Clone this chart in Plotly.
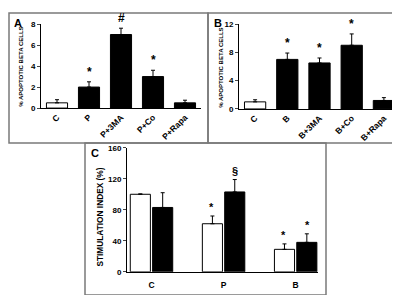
import plotly.graph_objects as go

# Panel A data
a_cats = ["C", "P", "P+3MA", "P+Co", "P+Rapa"]
a_vals = [0.5, 2.0, 7.0, 3.0, 0.5]
a_err = [0.3, 0.5, 0.6, 0.6, 0.25]
a_marks = ["", "*", "#", "*", ""]

# Panel B data
b_cats = ["C", "B", "B+3MA", "B+Co", "B+Rapa"]
b_vals = [1.0, 7.0, 6.5, 9.0, 1.2]
b_err = [0.3, 0.9, 0.7, 1.6, 0.4]
b_marks = ["", "*", "*", "*", ""]

# Panel C data
c_cats = ["C", "P", "B"]
c_white = [100, 62, 29]
c_white_err = [0.5, 10, 7]
c_black = [83, 103, 38]
c_black_err = [19, 16, 11]
c_white_marks = ["", "*", "*"]
c_black_marks = ["", "§", "*"]

FONT = "Liberation Sans, Arial, sans-serif"

fig = go.Figure()

def colors(n):
    return ["white"] + ["black"] * (n - 1)

fig.add_trace(go.Bar(x=a_cats, y=a_vals, marker=dict(color=colors(5), line=dict(color="black", width=1)),
                     error_y=dict(type="data", array=a_err, arrayminus=[0]*5, symmetric=False, color="black", thickness=1, width=2),
                     width=0.66, xaxis="x", yaxis="y", showlegend=False))
fig.add_trace(go.Bar(x=b_cats, y=b_vals, marker=dict(color=colors(5), line=dict(color="black", width=1)),
                     error_y=dict(type="data", array=b_err, arrayminus=[0]*5, symmetric=False, color="black", thickness=1, width=2),
                     width=0.66, xaxis="x2", yaxis="y2", showlegend=False))
fig.add_trace(go.Bar(x=c_cats, y=c_white, marker=dict(color="white", line=dict(color="black", width=1)),
                     error_y=dict(type="data", array=c_white_err, arrayminus=[0]*3, symmetric=False, color="black", thickness=1, width=2),
                     xaxis="x3", yaxis="y3", showlegend=False, offsetgroup="w"))
fig.add_trace(go.Bar(x=c_cats, y=c_black, marker=dict(color="black", line=dict(color="black", width=1)),
                     error_y=dict(type="data", array=c_black_err, arrayminus=[0]*3, symmetric=False, color="black", thickness=1, width=2),
                     xaxis="x3", yaxis="y3", showlegend=False, offsetgroup="b"))

tickfont = dict(family=FONT, size=8, color="black", weight="bold")
xtickfont = dict(family=FONT, size=8.5, color="black", weight="bold")

axis_common = dict(showline=True, linecolor="black", linewidth=1, showgrid=False, zeroline=False)

fig.update_layout(
    width=400, height=295, margin=dict(l=0, r=0, t=0, b=0),
    paper_bgcolor="white", plot_bgcolor="white", barmode="group",
    bargap=0.38, bargroupgap=0.1,
    xaxis=dict(domain=[0.0825, 0.4825], range=[-0.5, 4.5], anchor="y", ticks="", tickangle=-45, tickfont=xtickfont, **axis_common),
    yaxis=dict(domain=[0.664, 0.958], range=[0, 8], anchor="x", tickvals=[0, 2, 4, 6, 8], ticks="outside", ticklen=3, tickfont=tickfont, **axis_common),
    xaxis2=dict(domain=[0.5775, 0.98], range=[-0.5, 4.5], anchor="y2", ticks="", tickangle=-45, tickfont=xtickfont, **axis_common),
    yaxis2=dict(domain=[0.661, 0.958], range=[0, 12], anchor="x2", tickvals=[0, 4, 8, 12], ticks="outside", ticklen=3, tickfont=tickfont, **axis_common),
    xaxis3=dict(domain=[0.2975, 0.775], range=[-0.34, 2.31], anchor="y3", ticks="", tickfont=xtickfont, ticklabelstandoff=5, **axis_common),
    yaxis3=dict(domain=[0.0915, 0.5254], range=[0, 160], anchor="x3", tickvals=[0, 40, 80, 120, 160], ticks="outside", ticklen=3, tickfont=tickfont, **axis_common),
)

annots = []
for c, v, e, m in zip(a_cats, a_vals, a_err, a_marks):
    if m:
        annots.append(dict(x=c, y=v + e, xref="x", yref="y", text=m, showarrow=False, yanchor="bottom", yshift=1,
                           font=dict(family=FONT, size=12, color="black", weight="bold")))
for c, v, e, m in zip(b_cats, b_vals, b_err, b_marks):
    if m:
        annots.append(dict(x=c, y=v + e, xref="x2", yref="y2", text=m, showarrow=False, yanchor="bottom", yshift=1,
                           font=dict(family=FONT, size=12, color="black", weight="bold")))
for i, (c, v, e, m) in enumerate(zip(c_cats, c_white, c_white_err, c_white_marks)):
    if m:
        annots.append(dict(x=i - 0.165, y=v + e, xref="x3", yref="y3", text=m, showarrow=False, yanchor="bottom", yshift=1,
                           font=dict(family=FONT, size=11, color="black", weight="bold")))
for i, (c, v, e, m) in enumerate(zip(c_cats, c_black, c_black_err, c_black_marks)):
    if m:
        annots.append(dict(x=i + 0.165, y=v + e, xref="x3", yref="y3", text=m, showarrow=False, yanchor="bottom", yshift=1,
                           font=dict(family=FONT, size=11, color="black", weight="bold")))

# axis titles
ytitle_font = dict(family=FONT, size=6, color="black", weight="bold")
annots.append(dict(x=13.5/400, y=1 - 57/295, xref="paper", yref="paper", text="% APOPTOTIC BETA CELLS", textangle=-90,
                   showarrow=False, xanchor="center", yanchor="middle", font=ytitle_font))
annots.append(dict(x=213.5/400, y=1 - 57/295, xref="paper", yref="paper", text="% APOPTOTIC BETA CELLS", textangle=-90,
                   showarrow=False, xanchor="center", yanchor="middle", font=ytitle_font))
annots.append(dict(x=92/400, y=1 - 212/295, xref="paper", yref="paper", text="STIMULATION INDEX (%)", textangle=-90,
                   showarrow=False, xanchor="center", yanchor="middle", font=dict(family=FONT, size=8.3, color="black", weight="bold")))

panel_font = dict(family=FONT, size=11, color="black", weight="bold")
annots.append(dict(x=4/400, y=1 - 3/295, xref="paper", yref="paper", text="A", showarrow=False, xanchor="left", yanchor="top", font=panel_font))
annots.append(dict(x=204/400, y=1 - 3/295, xref="paper", yref="paper", text="B", showarrow=False, xanchor="left", yanchor="top", font=panel_font))
annots.append(dict(x=81/400, y=1 - 137/295, xref="paper", yref="paper", text="C", showarrow=False, xanchor="left", yanchor="top", font=panel_font))
fig.update_layout(annotations=annots)

def box(x0, y0, x1, y1):
    return dict(type="rect", xref="paper", yref="paper", x0=x0/400, x1=x1/400, y0=1 - y1/295, y1=1 - y0/295,
                line=dict(color="#7a7a7a", width=1.5), fillcolor="rgba(0,0,0,0)", layer="below")

fig.update_layout(shapes=[box(1, 1, 200, 135), box(200, 1, 398, 135), box(77, 135, 318, 292)])

fig.write_html("out.html")
